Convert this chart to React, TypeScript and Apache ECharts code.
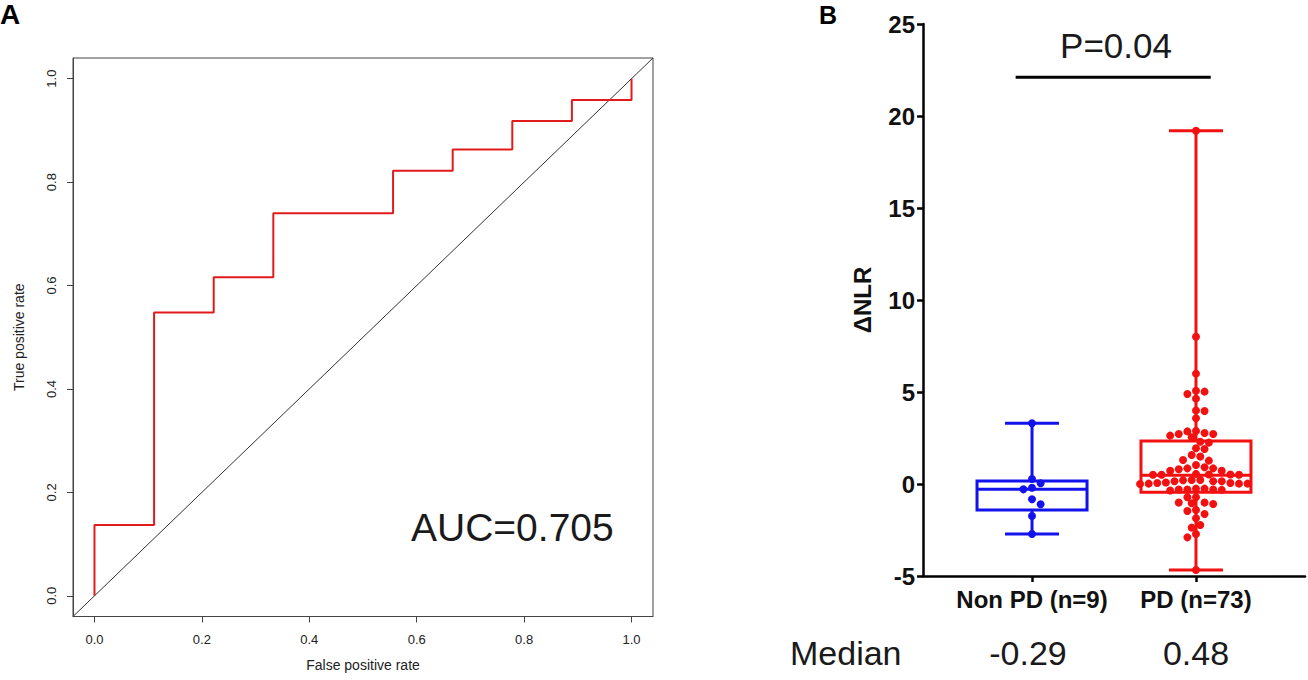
import React, { useEffect, useRef } from "react";
import * as echarts from "echarts";

// ---------- Panel A: ROC curve ----------
const ROC_FPR = [0, 0, 0.111, 0.111, 0.222, 0.222, 0.333, 0.333, 0.556, 0.556, 0.667, 0.667, 0.778, 0.778, 0.889, 0.889, 1.0, 1.0];
const ROC_TPR = [0, 0.137, 0.137, 0.548, 0.548, 0.616, 0.616, 0.74, 0.74, 0.822, 0.822, 0.863, 0.863, 0.918, 0.918, 0.959, 0.959, 1.0];
const ROC_TICKS = [0, 0.2, 0.4, 0.6, 0.8, 1.0];
const ROC_MIN = -0.04;
const ROC_MAX = 1.04;
const AUC_TEXT = "AUC=0.705";
const ROC_X_NAME = "False positive rate";
const ROC_Y_NAME = "True positive rate";

// ---------- Panel B: ΔNLR dot/box plot ----------
const GROUP_LABELS = ["Non PD (n=9)", "PD (n=73)"];
const GROUP_POS = [1, 2];
const MEDIAN_TITLE = "Median";
const MEDIAN_TEXTS = ["-0.29", "0.48"];
const NONPD_VALUES = [3.3, 0.27, 0.04, -0.2, -0.29, -0.83, -1.1, -1.74, -2.72];
const PD_VALUES = [
  19.2, 8.0, 6.0, 5.07, 4.89, 5.02, 4.64, 4.0, 3.97, 3.57,
  2.86, 2.72, 2.63, 2.54, 2.72, 2.77, 2.88, 2.25, 2.3, 1.9,
  1.94, 1.49, 1.58, 1.27, 1.3, 1.03,
  0.85, 0.85, 0.72, 0.72, 0.8, 0.91,
  0.52, 0.5, 0.5, 0.5, 0.52, 0.55,
  0.22, 0.15, 0.2, 0.15, 0.15, 0.22,
  0.05, 0.02, 0.0, 0.05, 0.02, 0.02, 0.08,
  -0.25, -0.35, -0.3, -0.32, -0.3, -0.3, -0.25,
  -0.72, -0.72,
  -1.01, -1.05, -1.09, -1.01, -1.47, -1.41, -1.63, -1.86, -2.23, -2.37,
  -2.72, -2.9, -4.67,
];
// [min, Q1, median, Q3, max]
const NONPD_STATS = [-2.72, -1.41, -0.29, 0.16, 3.3];
const PD_STATS = [-4.67, -0.45, 0.48, 2.34, 19.2];
const B_Y_MIN = -5;
const B_Y_MAX = 25;
const B_Y_STEP = 5;
const B_X_MIN = 0.335;
const B_X_MAX = 2.665;
const P_TEXT = "P=0.04";
const P_BAR_Y = 22.1;
const P_BAR_X = [0.9, 2.09];
const Y_NAME_B = "ΔNLR";

// ---------- styles ----------
const FONT = "'Liberation Sans', Arial, Helvetica, sans-serif";
const BLUE = "#1212ec";
const RED = "#f21010";
const GROUP_COLORS = [BLUE, RED];
const BOX_HALF_PX = 55;
const CAP_HALF_PX = 27;
const DOT_SIZE = 8;
const SLOT_PX = 4.3; // horizontal quantum of the dot arrangement
const CLEAR_PX = 7.2; // minimum centre-to-centre distance between dots

function swarmOffsets(py: number[]): number[] {
  const order = py.map((_, i) => i).sort((a, b) => py[a] - py[b]);
  const placed: { x: number; y: number }[] = [];
  const out = new Array(py.length).fill(0);
  let flip = 1;
  for (const i of order) {
    const y = py[i];
    const near = placed.filter((p) => Math.abs(p.y - y) < CLEAR_PX);
    const free = (x: number) =>
      near.every((p) => (p.x - x) * (p.x - x) + (p.y - y) * (p.y - y) >= CLEAR_PX * CLEAR_PX - 1e-6);
    let x = 0;
    for (let k = 0; k < 60; k++) {
      const a = flip * k * SLOT_PX;
      if (free(a)) { x = a; break; }
      if (k > 0 && free(-a)) { x = -a; break; }
    }
    flip = -flip;
    out[i] = x;
    placed.push({ x, y });
  }
  return out;
}

export default function App() {
  const ref = useRef<HTMLDivElement>(null);

  useEffect(() => {
    document.body.style.margin = "0";
    if (!ref.current) return;
    const chart = echarts.init(ref.current, null, { renderer: "svg" });

    const axisNameA = { fontSize: 14, color: "#222", fontFamily: FONT };
    const tickLabelA = { color: "#222", fontSize: 13, fontFamily: FONT };

    const option: any = {
      animation: false,
      backgroundColor: "#ffffff",
      grid: [
        { left: 73, top: 58, width: 580, height: 558.5, show: true, borderColor: "#444", borderWidth: 1, backgroundColor: "transparent" },
        { left: 923, top: 24, width: 382, height: 552, show: false },
      ],
      xAxis: [
        {
          type: "value", gridIndex: 0, min: ROC_MIN, max: ROC_MAX, position: "bottom",
          axisLine: { show: true, onZero: false, lineStyle: { color: "#444", width: 1 } },
          axisTick: { show: true, customValues: ROC_TICKS, length: 6, lineStyle: { color: "#444", width: 1 } },
          axisLabel: { ...tickLabelA, customValues: ROC_TICKS, formatter: (v: number) => v.toFixed(1), margin: 16 },
          splitLine: { show: false },
          name: ROC_X_NAME, nameLocation: "middle", nameGap: 41, nameTextStyle: axisNameA,
        },
        {
          type: "value", gridIndex: 1, min: B_X_MIN, max: B_X_MAX, position: "bottom",
          axisLine: { show: true, onZero: false, lineStyle: { color: "#000", width: 2.5 } },
          axisTick: { show: true, customValues: GROUP_POS, length: 6, lineStyle: { color: "#000", width: 2.5 } },
          axisLabel: {
            customValues: GROUP_POS,
            formatter: (v: number) => GROUP_LABELS[GROUP_POS.indexOf(Math.round(v))] ?? "",
            color: "#111", fontSize: 24, fontWeight: "bold", fontFamily: FONT, margin: 11,
          },
          splitLine: { show: false },
        },
      ],
      yAxis: [
        {
          type: "value", gridIndex: 0, min: ROC_MIN, max: ROC_MAX, position: "left",
          axisLine: { show: true, onZero: false, lineStyle: { color: "#444", width: 1 } },
          axisTick: { show: true, customValues: ROC_TICKS, length: 6, lineStyle: { color: "#444", width: 1 } },
          axisLabel: { ...tickLabelA, customValues: ROC_TICKS, formatter: (v: number) => v.toFixed(1), rotate: 90, margin: 15 },
          splitLine: { show: false },
          name: ROC_Y_NAME, nameLocation: "middle", nameGap: 47, nameTextStyle: axisNameA,
        },
        {
          type: "value", gridIndex: 1, min: B_Y_MIN, max: B_Y_MAX, interval: B_Y_STEP, position: "left",
          axisLine: { show: true, onZero: false, lineStyle: { color: "#000", width: 2.5 } },
          axisTick: { show: true, length: 6, lineStyle: { color: "#000", width: 2.5 } },
          axisLabel: { color: "#111", fontSize: 24, fontWeight: "bold", fontFamily: FONT, margin: 8 },
          splitLine: { show: false },
          name: Y_NAME_B, nameLocation: "middle", nameGap: 49,
          nameTextStyle: { color: "#111", fontSize: 24, fontWeight: "bold", fontFamily: FONT },
        },
      ],
      series: [
        {
          id: "diag", type: "line", xAxisIndex: 0, yAxisIndex: 0,
          data: [[ROC_MIN, ROC_MIN], [ROC_MAX, ROC_MAX]],
          showSymbol: false, silent: true,
          lineStyle: { color: "#333", width: 1 },
        },
        {
          id: "roc", type: "line", xAxisIndex: 0, yAxisIndex: 0,
          data: ROC_FPR.map((x, i) => [x, ROC_TPR[i]]),
          showSymbol: false,
          lineStyle: { color: "#e11b1b", width: 2 },
        },
        {
          id: "boxes", type: "custom", xAxisIndex: 1, yAxisIndex: 1,
          data: [[GROUP_POS[0], ...NONPD_STATS], [GROUP_POS[1], ...PD_STATS]],
          encode: { x: 0, y: [1, 2, 3, 4, 5] },
          renderItem: (params: any, api: any) => {
            const pos = api.value(0);
            const c = (v: number) => api.coord([pos, v]);
            const lo = c(api.value(1));
            const q1 = c(api.value(2));
            const md = c(api.value(3));
            const q3 = c(api.value(4));
            const hi = c(api.value(5));
            const color = GROUP_COLORS[params.dataIndex];
            const x0 = lo[0];
            const st = { stroke: color, lineWidth: 3, fill: "none" };
            return {
              type: "group",
              children: [
                { type: "rect", shape: { x: x0 - BOX_HALF_PX, y: q3[1], width: 2 * BOX_HALF_PX, height: q1[1] - q3[1] }, style: st },
                { type: "line", shape: { x1: x0 - BOX_HALF_PX, y1: md[1], x2: x0 + BOX_HALF_PX, y2: md[1] }, style: st },
                { type: "line", shape: { x1: x0, y1: q3[1], x2: x0, y2: hi[1] }, style: st },
                { type: "line", shape: { x1: x0, y1: q1[1], x2: x0, y2: lo[1] }, style: st },
                { type: "line", shape: { x1: x0 - CAP_HALF_PX, y1: hi[1], x2: x0 + CAP_HALF_PX, y2: hi[1] }, style: st },
                { type: "line", shape: { x1: x0 - CAP_HALF_PX, y1: lo[1], x2: x0 + CAP_HALF_PX, y2: lo[1] }, style: st },
              ],
            };
          },
          z: 2,
        },
        {
          id: "pbar", type: "line", xAxisIndex: 1, yAxisIndex: 1,
          data: [[P_BAR_X[0], P_BAR_Y], [P_BAR_X[1], P_BAR_Y]],
          showSymbol: false, silent: true,
          lineStyle: { color: "#000", width: 3 },
        },
        {
          id: "nonpd", type: "scatter", xAxisIndex: 1, yAxisIndex: 1,
          data: [], symbolSize: DOT_SIZE, itemStyle: { color: BLUE, opacity: 1 }, z: 3,
        },
        {
          id: "pd", type: "scatter", xAxisIndex: 1, yAxisIndex: 1,
          data: [], symbolSize: DOT_SIZE, itemStyle: { color: RED, opacity: 1 }, z: 3,
        },
      ],
    };

    chart.setOption(option);

    const finder = { gridIndex: 1 };
    const toPx = (x: number, y: number) => chart.convertToPixel(finder, [x, y]) as number[];
    const fromPx = (x: number, y: number) => chart.convertFromPixel(finder, [x, y]) as number[];
    const swarm = (values: number[], pos: number) => {
      const pts = values.map((v) => toPx(pos, v));
      const offs = swarmOffsets(pts.map((p) => p[1]));
      return values.map((v, i) => [fromPx(pts[i][0] + offs[i], pts[i][1])[0], v]);
    };

    const groupPx = GROUP_POS.map((p) => toPx(p, 0)[0]);
    const textBase = { fontFamily: FONT, fill: "#1a1a1a", verticalAlign: "middle" };

    chart.setOption({
      series: [
        { id: "nonpd", data: swarm(NONPD_VALUES, GROUP_POS[0]) },
        { id: "pd", data: swarm(PD_VALUES, GROUP_POS[1]) },
      ],
      graphic: [
        { type: "text", x: 0, y: 14, style: { ...textBase, text: "A", fontSize: 28, fontWeight: "bold", fill: "#000", align: "left" } },
        { type: "text", x: 819, y: 15, style: { ...textBase, text: "B", fontSize: 25, fontWeight: "bold", fill: "#000", align: "left" } },
        { type: "text", x: 411, y: 527, style: { ...textBase, text: AUC_TEXT, fontSize: 39, align: "left" } },
        { type: "text", x: (groupPx[0] + groupPx[1]) / 2 + 2, y: 45, style: { ...textBase, text: P_TEXT, fontSize: 35, align: "center" } },
        { type: "text", x: 790, y: 653, style: { ...textBase, text: MEDIAN_TITLE, fontSize: 34, align: "left" } },
        ...MEDIAN_TEXTS.map((t, i) => ({
          type: "text", x: groupPx[i] - (i === 0 ? 4 : 0), y: 653,
          style: { ...textBase, text: t, fontSize: 34, align: "center" },
        })),
      ],
    });

    return () => chart.dispose();
  }, []);

  return <div ref={ref} style={{ width: 1308, height: 680 }} />;
}
